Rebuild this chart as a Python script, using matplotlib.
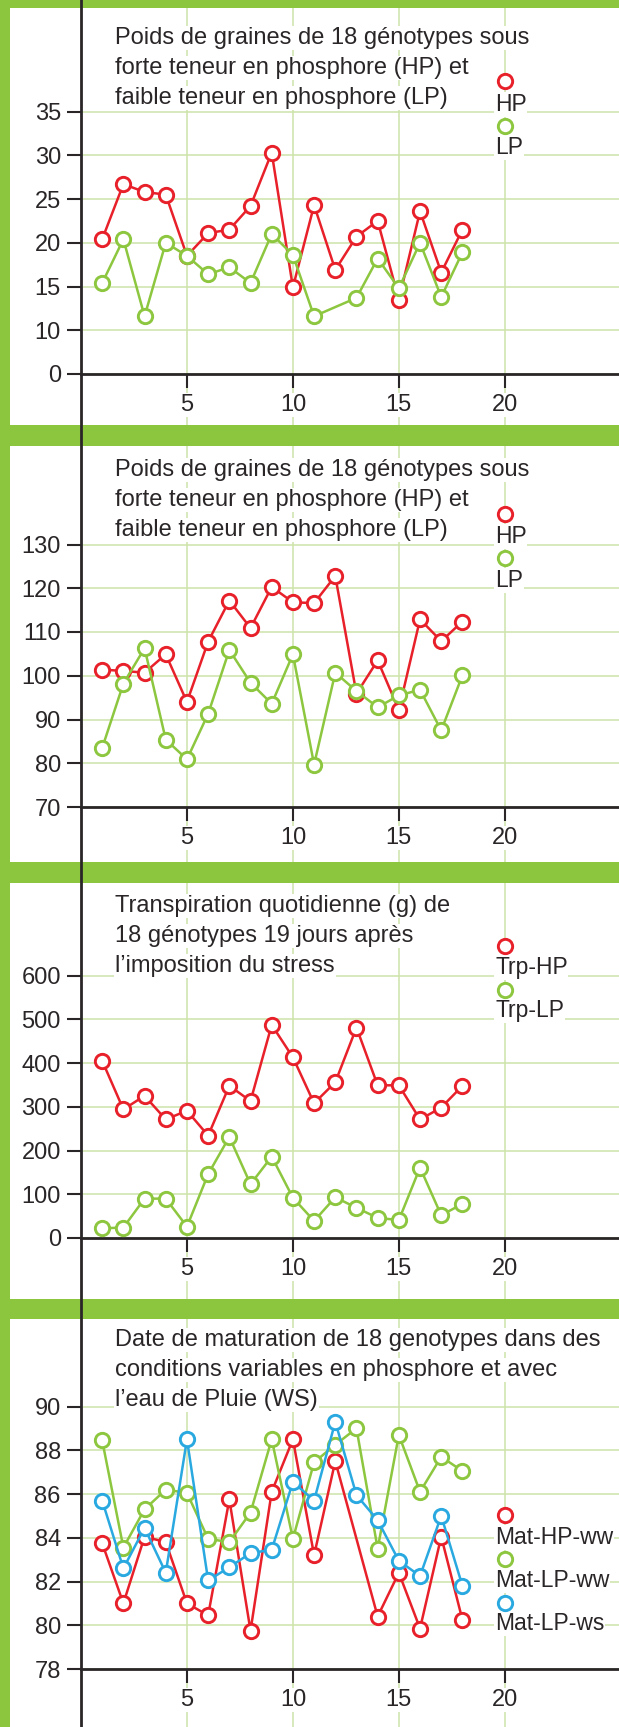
import matplotlib
matplotlib.use("Agg")
import matplotlib.pyplot as plt
from matplotlib.lines import Line2D
from matplotlib.patches import Rectangle

plt.rcParams["font.family"] = ["Liberation Sans", "DejaVu Sans"]

# ---------------------------------------------------------------- data
GENOTYPES = [1, 2, 3, 4, 5, 6, 7, 8, 9, 10, 11, 12, 13, 14, 15, 16, 17, 18]
GENOTYPES_NO12 = [1, 2, 3, 4, 5, 6, 7, 8, 9, 10, 11, 13, 14, 15, 16, 17, 18]
GENOTYPES_NO13 = [1, 2, 3, 4, 5, 6, 7, 8, 9, 10, 11, 12, 14, 15, 16, 17, 18]

# panel 1 : seed weight
seed1_hp = [20.4, 26.7, 25.8, 25.5, 18.5, 21.1, 21.5, 24.2, 30.3, 14.9, 24.3, 16.9,
            20.7, 22.5, 13.5, 23.6, 16.6, 21.5]
seed1_lp = [15.4, 20.4, 11.6, 20.0, 18.5, 16.4, 17.2, 15.4, 21.0, 18.6, 11.6,
            13.7, 18.2, 14.8, 20.0, 13.8, 18.9]

# panel 2 : seed weight (second set)
seed2_hp = [101.4, 101.1, 100.7, 104.9, 94.0, 107.8, 117.2, 110.9, 120.3, 116.8, 116.6,
            122.8, 95.9, 103.5, 92.2, 112.9, 107.9, 112.4]
seed2_lp = [83.5, 98.2, 106.3, 85.4, 80.9, 91.3, 105.9, 98.4, 93.6, 104.9, 79.7, 100.7,
            96.5, 92.8, 95.5, 96.8, 87.5, 100.1]

# panel 3 : daily transpiration
trp_hp = [405, 294, 325, 271, 291, 234, 348, 313, 487, 413, 308, 356, 481, 349, 349,
          271, 298, 348]
trp_lp = [22, 24, 90, 90, 26, 146, 231, 123, 186, 92, 39, 93, 69, 46, 41, 161, 52, 78]

# panel 4 : maturation date
mat_hp_ww = [83.75, 81.0, 84.05, 83.8, 81.0, 80.45, 85.75, 79.75, 86.1, 88.5, 83.2,
             87.5, 80.4, 82.4, 79.85, 84.05, 80.25]
mat_lp_ww = [88.45, 83.55, 85.3, 86.2, 86.05, 83.95, 83.8, 85.15, 88.5, 83.95, 87.45,
             88.25, 89.0, 83.5, 88.7, 86.1, 87.7, 87.05]
mat_lp_ws = [85.7, 82.6, 84.45, 82.4, 88.5, 82.05, 82.65, 83.3, 83.45, 86.55, 85.7,
             89.3, 85.95, 84.8, 82.95, 82.25, 85.0, 81.8]

X_TICKS = [5, 10, 15, 20]
Y1_TICKS = [5, 10, 15, 20, 25, 30, 35]
Y1_LABELS = ["0", "10", "15", "20", "25", "30", "35"]
Y2_TICKS = [70, 80, 90, 100, 110, 120, 130]
Y3_TICKS = [0, 100, 200, 300, 400, 500, 600]
Y4_TICKS = [78, 80, 82, 84, 86, 88, 90]

TITLE_SEED = ["Poids de graines de 18 génotypes sous",
              "forte teneur en phosphore (HP) et",
              "faible teneur en phosphore (LP)"]
TITLE_TRP = ["Transpiration quotidienne (g) de",
             "18 génotypes 19 jours après",
             "l\u2019imposition du stress"]
TITLE_MAT = ["Date de maturation de 18 genotypes dans des",
             "conditions variables en phosphore et avec",
             "l\u2019eau de Pluie (WS)"]

# ---------------------------------------------------------------- style
W, H, DPI = 619, 1727, 100
GREEN_FRAME = "#8cc63f"
GRID = "#cde4a9"
INK = "#2a2627"
RED = "#e8202a"
GREEN = "#8dc63f"
BLUE = "#29a9e0"

AX_LEFT = 81.0          # px, position of the y axis
FRAME_LEFT = 10.0       # px, width of the left green border
PX_PER_X = 21.19        # px per genotype unit
PX_PER_TICK = 43.75     # px between y ticks
FS = 17
FS_LEG = 16.5
MS, MEW, LW = 10.3, 2.1, 1.8


def fx(px):
    return px / W


def fy(py):
    return 1 - py / H


fig = plt.figure(figsize=(W / DPI, H / DPI), dpi=DPI)
fig.patch.set_facecolor(GREEN_FRAME)


def make_panel(top, bottom, axis_px, ticks, tick_labels, series, title, title_base,
               legend):
    # white card behind the panel (incl. tick label margin)
    fig.add_artist(Rectangle((fx(FRAME_LEFT), fy(bottom)), 1 - fx(FRAME_LEFT),
                             (bottom - top) / H, transform=fig.transFigure,
                             facecolor="white", edgecolor="none", zorder=-1))
    ax = fig.add_axes([fx(AX_LEFT), fy(bottom), 1 - fx(AX_LEFT), (bottom - top) / H])
    ax.set_facecolor("white")

    step = ticks[1] - ticks[0]
    base = ticks[0]
    lo = base - (bottom - axis_px) / PX_PER_TICK * step
    hi = base + (axis_px - top) / PX_PER_TICK * step
    ax.set_ylim(lo, hi)
    ax.set_xlim(0, (W - AX_LEFT) / PX_PER_X)

    for s in ("top", "right", "left"):
        ax.spines[s].set_visible(False)
    ax.spines["bottom"].set_position(("data", base))
    ax.spines["bottom"].set_color(INK)
    ax.spines["bottom"].set_linewidth(2.0)

    ax.set_xticks(X_TICKS)
    ax.set_yticks(ticks)
    ax.set_yticklabels(tick_labels)
    ax.tick_params(axis="both", direction="out", length=10, width=1.5, color=INK,
                   labelsize=FS, labelcolor=INK, pad=4.5)
    for lab in ax.get_xticklabels():
        lab.set_bbox(dict(facecolor="white", edgecolor="none", pad=0.5))

    ax.grid(True, color=GRID, linewidth=1.1)
    ax.set_axisbelow(True)

    for xs, ys, color in series:
        ax.plot(xs, ys, color=color, lw=LW, marker="o", ms=MS, mfc="white",
                mec=color, mew=MEW, zorder=3, clip_on=False)

    for line, yb in zip(title, title_base):
        fig.text(fx(115), fy(yb), line, fontsize=FS, color=INK, ha="left",
                 va="baseline", bbox=dict(facecolor="white", edgecolor="none", pad=0.8),
                 zorder=4)

    for label, color, ym, yb in legend:
        fig.add_artist(Line2D([fx(AX_LEFT + 20 * PX_PER_X)], [fy(ym)], marker="o",
                              ms=MS, mfc="white", mec=color, mew=MEW, linestyle="none",
                              transform=fig.transFigure, zorder=6))
        fig.text(fx(495), fy(yb), label, fontsize=FS_LEG, color=INK, ha="left",
                 va="baseline", bbox=dict(facecolor="white", edgecolor="none", pad=0.5),
                 zorder=5)
    return ax


make_panel(8, 425, 374, Y1_TICKS, Y1_LABELS,
           [(GENOTYPES, seed1_hp, RED), (GENOTYPES_NO12, seed1_lp, GREEN)],
           TITLE_SEED, [44, 74, 104],
           [("HP", RED, 81, 111), ("LP", GREEN, 126, 154)])

make_panel(446, 862, 807, Y2_TICKS, [str(t) for t in Y2_TICKS],
           [(GENOTYPES, seed2_hp, RED), (GENOTYPES, seed2_lp, GREEN)],
           TITLE_SEED, [476, 506, 536],
           [("HP", RED, 514, 543), ("LP", GREEN, 558, 587)])

make_panel(883, 1299, 1238, Y3_TICKS, [str(t) for t in Y3_TICKS],
           [(GENOTYPES, trp_hp, RED), (GENOTYPES, trp_lp, GREEN)],
           TITLE_TRP, [912, 942, 972],
           [("Trp-HP", RED, 946, 974), ("Trp-LP", GREEN, 990, 1017)])

make_panel(1319, 1727, 1669, Y4_TICKS, [str(t) for t in Y4_TICKS],
           [(GENOTYPES_NO13, mat_hp_ww, RED), (GENOTYPES, mat_lp_ww, GREEN),
            (GENOTYPES, mat_lp_ws, BLUE)],
           TITLE_MAT, [1346, 1376, 1406],
           [("Mat-HP-ww", RED, 1515, 1544), ("Mat-LP-ww", GREEN, 1559, 1587),
            ("Mat-LP-ws", BLUE, 1603, 1630)])

# the y axis runs through the whole figure, across the green bands
fig.add_artist(Line2D([fx(AX_LEFT), fx(AX_LEFT)], [0, 1], transform=fig.transFigure,
                      color=INK, lw=2.0, zorder=10))

fig.savefig("out.png", dpi=DPI, facecolor=fig.get_facecolor())
